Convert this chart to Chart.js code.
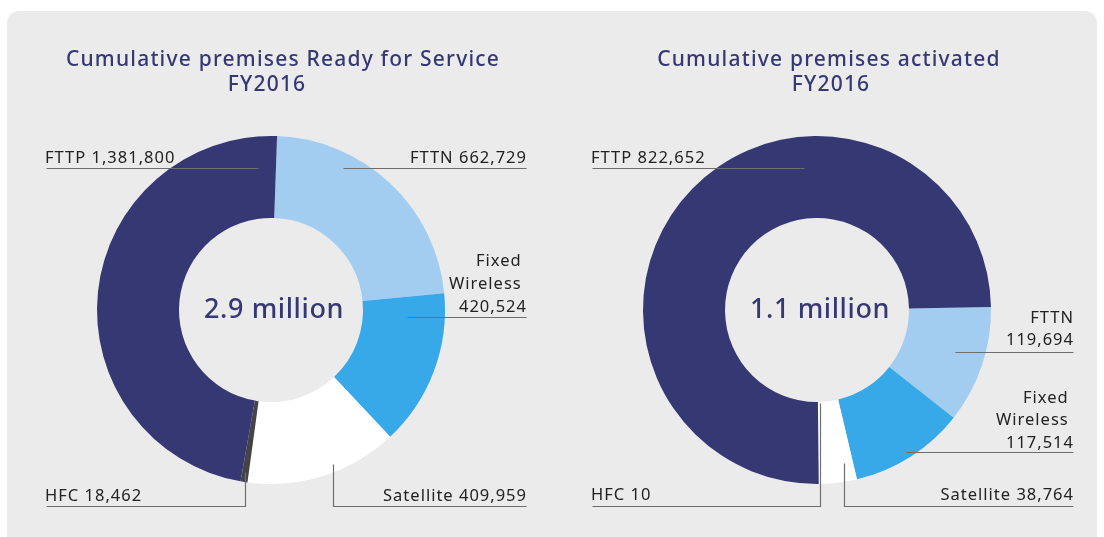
<!DOCTYPE html>
<html>
<head>
<meta charset="utf-8">
<script src="https://cdn.jsdelivr.net/npm/chart.js@4.4.1/dist/chart.umd.min.js"></script>
<style>
  html, body { margin: 0; padding: 0; background: #ffffff; }
  body { width: 1104px; height: 537px; position: relative; overflow: hidden; }
  #panel {
    position: absolute; left: 7px; top: 11px; width: 1090px; height: 540px;
    background: #ebebeb; border-radius: 12px;
  }
  .box { position: absolute; top: 0; width: 552px; height: 537px; }
  #boxLeft { left: 0; }
  #boxRight { left: 552px; }
</style>
</head>
<body>
<div id="panel"></div>
<div class="box" id="boxLeft"><canvas id="rfsChart"></canvas></div>
<div class="box" id="boxRight"><canvas id="activatedChart"></canvas></div>

<script>
// Data (clockwise from the start angle)
const categories = ["FTTN", "Fixed Wireless", "Satellite", "HFC", "FTTP"];
const rfsValues = [662729, 420524, 409959, 18462, 1381800];
const activatedValues = [119694, 117514, 38764, 10, 822652];
const rfsTotalText = "2.9 million";
const activatedTotalText = "1.1 million";
const rfsTitle = ["Cumulative premises Ready for Service", "FY2016"];
const activatedTitle = ["Cumulative premises activated", "FY2016"];

const colours = ["#a2cdf0", "#37a8e8", "#ffffff", "#444444", "#363874"];
const navy = "#363874";

function fmt(n) {
    return n.toLocaleString("en-US");
}

// Label layouts, offsets from the doughnut centre
function rfsLabels(v) {
    return [
        { lines: ["FTTP " + fmt(v[4])], x: -226, align: "left", ys: [-147], leader: [[-225, -142], [-13, -142]] },
        { lines: ["FTTN " + fmt(v[0])], x: 256, align: "right", ys: [-147], leader: [[72, -142], [255, -142]] },
        { lines: ["Fixed ", "Wireless ", fmt(v[1])], x: 256, align: "right", ys: [-44, -21, 2], leader: [[136, 7], [255, 7]] },
        { lines: ["Satellite " + fmt(v[2])], x: 256, align: "right", ys: [191], leader: [[62, 154], [62, 196], [255, 196]] },
        { lines: ["HFC " + fmt(v[3])], x: -226, align: "left", ys: [191], leader: [[-26, 162], [-26, 196], [-225, 196]] }
    ];
}

function activatedLabels(v) {
    return [
        { lines: ["FTTP " + fmt(v[4])], x: -226, align: "left", ys: [-147], leader: [[-225, -142], [-13, -142]] },
        { lines: ["FTTN", fmt(v[0])], x: 257, align: "right", ys: [13, 35], leader: [[138, 42], [256, 42]] },
        { lines: ["Fixed ", "Wireless ", fmt(v[1])], x: 257, align: "right", ys: [93, 115, 138], leader: [[89, 142], [256, 142]] },
        { lines: ["Satellite " + fmt(v[2])], x: 257, align: "right", ys: [190], leader: [[27, 153], [27, 196], [256, 196]] },
        { lines: ["HFC " + fmt(v[3])], x: -226, align: "left", ys: [190], leader: [[3, 93], [3, 196], [-225, 196]] }
    ];
}

// Plugin: titles, centre text, leader lines and labels
const annotatePlugin = {
    id: "annotate",
    afterDatasetsDraw(chart, args, opts) {
        const ctx = chart.ctx;
        const arc = chart.getDatasetMeta(0).data[0];
        const cx = arc.x, cy = arc.y;
        ctx.save();

        // title
        ctx.fillStyle = navy;
        ctx.font = '500 21px "Noto Sans"';
        ctx.letterSpacing = "1.2px";
        ctx.textAlign = "center";
        ctx.textBaseline = "alphabetic";
        opts.title.forEach((t, i) => ctx.fillText(t, cx + opts.titleX[i], opts.titleY[i]));

        // centre total
        ctx.font = '500 27px "Noto Sans"';
        ctx.letterSpacing = "0.6px";
        ctx.fillText(opts.total, cx + 3, cy + 8);

        // leader lines
        ctx.strokeStyle = "#6e6e6e";
        ctx.lineWidth = 1.2;
        opts.labels.forEach(l => {
            ctx.beginPath();
            l.leader.forEach((p, i) => {
                const px = Math.round(cx + p[0]) + 0.5, py = Math.round(cy + p[1]) + 0.5;
                if (i === 0) ctx.moveTo(px, py); else ctx.lineTo(px, py);
            });
            ctx.stroke();
        });

        // label text
        ctx.fillStyle = "#222222";
        ctx.font = '400 16.5px "Noto Sans"';
        ctx.letterSpacing = "1px";
        opts.labels.forEach(l => {
            ctx.textAlign = l.align;
            l.lines.forEach((s, i) => ctx.fillText(s, cx + l.x, cy + l.ys[i]));
        });
        ctx.restore();
    }
};

function createDoughnut(id, values, rotation, padding, extra) {
    const ctx = document.getElementById(id).getContext("2d");
    return new Chart(ctx, {
        type: "doughnut",
        data: {
            labels: categories,
            datasets: [{
                data: values,
                backgroundColor: colours,
                borderWidth: 0,
                hoverOffset: 0,
                radius: 174,
                cutout: 92
            }]
        },
        options: {
            responsive: false,
            animation: false,
            rotation: rotation,
            layout: { padding: padding },
            events: [],
            plugins: {
                legend: { display: false },
                tooltip: { enabled: false },
                annotate: extra
            }
        },
        plugins: [annotatePlugin]
    });
}

function sizeCanvas(id) {
    const c = document.getElementById(id);
    c.width = 552;
    c.height = 537;
    c.style.width = "552px";
    c.style.height = "537px";
}

document.addEventListener("DOMContentLoaded", () => {
    sizeCanvas("rfsChart");
    sizeCanvas("activatedChart");

    createDoughnut("rfsChart", rfsValues, 2,
        { left: 97, right: 107, top: 136, bottom: 53 },
        { title: rfsTitle, titleX: [12, -4], titleY: [66, 91], total: rfsTotalText, labels: rfsLabels(rfsValues) });

    createDoughnut("activatedChart", activatedValues, 89,
        { left: 91, right: 113, top: 136, bottom: 53 },
        { title: activatedTitle, titleX: [12, 14], titleY: [66, 91], total: activatedTotalText, labels: activatedLabels(activatedValues) });
});
</script>
</body>
</html>
